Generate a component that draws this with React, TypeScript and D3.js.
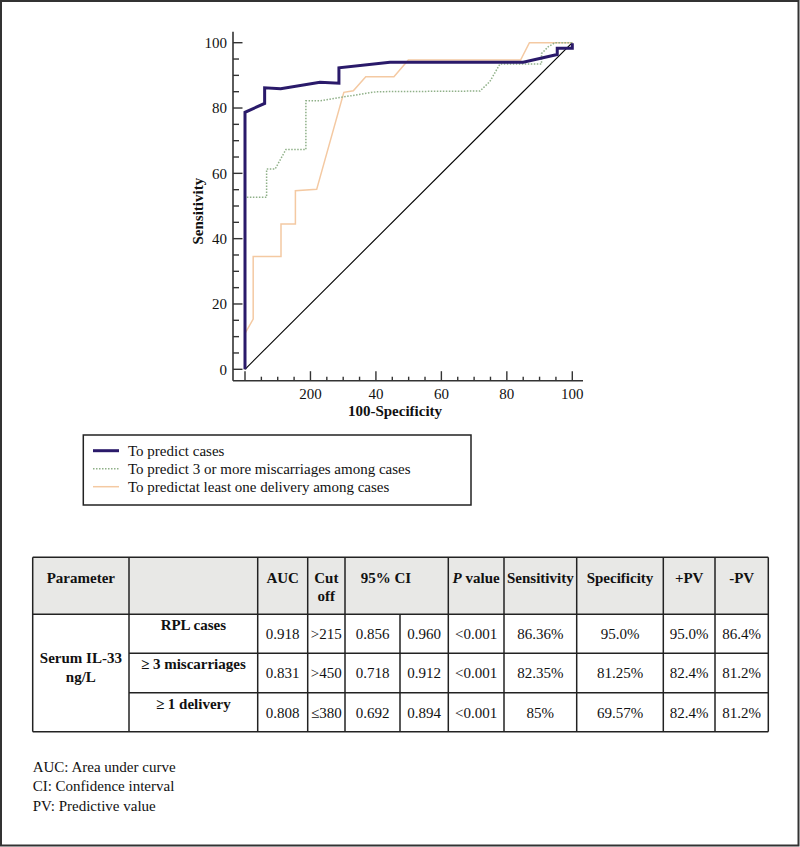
import * as d3 from 'd3';
import React from 'react';

// ROC curves, [100-Specificity, Sensitivity]
const casesCurve: [number, number][] = [
  [0, 0], [0, 78.7], [6.0, 81.4], [6.0, 86.2], [10.9, 85.9], [22.9, 87.9], [28.7, 87.6],
  [28.7, 92.3], [44.3, 94.0], [85, 94], [95.4, 96.4], [95.4, 98.3], [100, 98.3], [100, 99.8],
];
const miscarriageCurve: [number, number][] = [
  [0, 0], [0, 52.7], [6.6, 52.7], [6.6, 61.3], [9.2, 61.3], [12.5, 67.3], [18.6, 67.3],
  [18.6, 82.2], [22.9, 82.2], [29.5, 83.3], [40.2, 85.0], [71.8, 85.2], [74.8, 88.1],
  [77.9, 93.5], [90.6, 93.5], [90.6, 96.7], [92.7, 98.8], [94.7, 100], [100, 100],
];
const deliveryCurve: [number, number][] = [
  [0, 0], [0, 11.0], [2.5, 15.4], [2.5, 34.5], [11.0, 34.5], [11.0, 44.5], [15.4, 44.5],
  [15.4, 54.7], [21.9, 55.1], [30.2, 84.8], [33.1, 85.3], [36.9, 89.6], [45.5, 89.6],
  [49.9, 94.7], [84.2, 94.7], [86.9, 100], [100, 100],
];

const legendLabels = [
  'To predict cases',
  'To predict 3 or more miscarriages among cases',
  'To predictat least one delivery among cases',
];
const xTickLabels = ['200', '40', '60', '80', '100'];
const yTickLabels = ['0', '20', '40', '60', '80', '100'];

// table
const headers = ['Parameter', '', 'AUC', 'Cut off', '95% CI', 'P value', 'Sensitivity', 'Specificity', '+PV', '-PV'];
const groups = ['RPL cases', '≥ 3 miscarriages', '≥ 1 delivery'];
const auc = ['0.918', '0.831', '0.808'];
const cutoff = ['>215', '>450', '≤380'];
const ciLow = ['0.856', '0.718', '0.692'];
const ciHigh = ['0.960', '0.912', '0.894'];
const pValue = ['<0.001', '<0.001', '<0.001'];
const sensitivity = ['86.36%', '82.35%', '85%'];
const specificity = ['95.0%', '81.25%', '69.57%'];
const ppv = ['95.0%', '82.4%', '82.4%'];
const npv = ['86.4%', '81.2%', '81.2%'];
const footnotes = ['AUC: Area under curve', 'CI: Confidence interval', 'PV: Predictive value'];

const W = 800;
const H = 847;
const FONT = '"Liberation Serif", "Times New Roman", serif';

const App: React.FC = () => {
  const x = d3.scaleLinear().domain([0, 100]).range([245, 572.3]);
  const y = d3.scaleLinear().domain([0, 100]).range([369.3, 42.7]);
  const line = d3.line<[number, number]>().x(d => x(d[0])).y(d => y(d[1]));

  const axisX = 233;
  const axisY = 380.7;
  const ticks = d3.range(0, 101, 5);

  const series = [
    { data: deliveryCurve, color: '#f4c9a2', width: 1.5, dash: undefined },
    { data: miscarriageCurve, color: '#8fb088', width: 1.5, dash: '1.5,1.5' },
    { data: casesCurve, color: '#2a1a6a', width: 3, dash: undefined },
  ];
  const legendStyles = [series[2], series[1], series[0]];

  // table geometry
  const cols = [32.7, 129, 257.7, 307.7, 345, 400, 448.3, 504, 576.7, 663.3, 715, 768.3];
  const rows = [557.3, 614.3, 653.3, 692.7, 731.7];
  const cx = (i: number, j: number) => (cols[i] + cols[j]) / 2;
  const rowValues = [auc, cutoff, ciLow, ciHigh, pValue, sensitivity, specificity, ppv, npv];
  const headerCells: [number, number][] = [[0, 1], [1, 2], [2, 3], [3, 4], [4, 6], [6, 7], [7, 8], [8, 9], [9, 10], [10, 11]];

  return (
    <svg width={W} height={H} style={{ position: 'absolute', left: 0, top: 0, background: '#fff' }} fontFamily={FONT} fontSize={15}>
      <rect x={1} y={1} width={W - 2.5} height={H - 2.5} fill="#fff" stroke="#333" strokeWidth={2} />

      {/* axes */}
      <line x1={axisX} x2={axisX} y1={31.7} y2={axisY} stroke="#333" strokeWidth={1.6} />
      <line x1={axisX} x2={583} y1={axisY} y2={axisY} stroke="#333" strokeWidth={1.6} />
      {ticks.map(t => (
        <line key={'yt' + t} x1={axisX} x2={axisX + (t % 20 === 0 ? 9.5 : 6)} y1={y(t)} y2={y(t)} stroke="#333" strokeWidth={1.4} />
      ))}
      {ticks.map(t => (
        <line key={'xt' + t} x1={x(t)} x2={x(t)} y1={axisY} y2={axisY - (t % 20 === 0 ? 9.5 : 4)} stroke="#333" strokeWidth={1.4} />
      ))}
      {yTickLabels.map((l, i) => (
        <text key={'yl' + l} x={227} y={y(i * 20)} dy="0.35em" textAnchor="end" fill="#111">{l}</text>
      ))}
      {xTickLabels.map((l, i) => (
        <text key={'xl' + l} x={x((i + 1) * 20)} y={399} textAnchor="middle" fill="#111">{l}</text>
      ))}
      <text transform={`translate(203,${(31.7 + axisY) / 2 + 5}) rotate(-90)`} textAnchor="middle" fontWeight="bold" fill="#111">Sensitivity</text>
      <text x={395} y={416} textAnchor="middle" fontWeight="bold" fill="#111">100-Specificity</text>

      {/* reference diagonal */}
      <line x1={x(0)} y1={y(0)} x2={x(100)} y2={y(100)} stroke="#000" strokeWidth={1.1} />
      {series.map((s, i) => (
        <path key={i} d={line(s.data) ?? ''} fill="none" stroke={s.color} strokeWidth={s.width} strokeDasharray={s.dash} strokeLinejoin="miter" />
      ))}

      {/* legend */}
      <rect x={83.3} y={435} width={387.7} height={70} fill="#fff" stroke="#222" strokeWidth={1.5} />
      {legendLabels.map((l, i) => {
        const ly = 450.7 + i * 18;
        const s = legendStyles[i];
        return (
          <g key={l}>
            <line x1={93} x2={119} y1={ly} y2={ly} stroke={s.color} strokeWidth={s.width} strokeDasharray={s.dash} />
            <text x={128} y={ly + 5} fill="#111">{l}</text>
          </g>
        );
      })}

      {/* table */}
      <rect x={cols[0]} y={rows[0]} width={cols[11] - cols[0]} height={rows[1] - rows[0]} fill="#e8e8e6" />
      {rows.map(r => (
        <line key={'r' + r} x1={r === rows[2] || r === rows[3] ? cols[1] : cols[0]} x2={cols[11]} y1={r} y2={r} stroke="#222" strokeWidth={1.5} />
      ))}
      {cols.map((c, i) => (
        <line key={'c' + c} x1={c} x2={c} y1={i === 5 ? rows[1] : rows[0]} y2={rows[4]} stroke="#222" strokeWidth={1.5} />
      ))}
      {headerCells.map(([a, b], i) => {
        const h = headers[i];
        if (!h) return null;
        const tx = i === 4 ? 386 : cx(a, b);
        if (h === 'Cut off') {
          return (
            <text key={h} x={tx} textAnchor="middle" fontWeight="bold" fill="#111">
              <tspan x={tx} y={583}>Cut</tspan>
              <tspan x={tx} y={601}>off</tspan>
            </text>
          );
        }
        if (h === 'P value') {
          return (
            <text key={h} x={tx} y={583} textAnchor="middle" fontWeight="bold" fill="#111">
              <tspan fontStyle="italic">P</tspan> value
            </text>
          );
        }
        return (
          <text key={h} x={tx} y={583} textAnchor="middle" fontWeight="bold" fill="#111">{h}</text>
        );
      })}
      <text textAnchor="middle" fontWeight="bold" fill="#111">
        <tspan x={cx(0, 1)} y={663}>Serum IL-33</tspan>
        <tspan x={cx(0, 1)} y={682}>ng/L</tspan>
      </text>
      {groups.map((g, r) => (
        <g key={g}>
          <text x={cx(1, 2)} y={rows[r + 1] + 16} textAnchor="middle" fontWeight="bold" fill="#111">{g}</text>
          {rowValues.map((vals, k) => (
            <text key={k} x={cx(k + 2, k + 3)} y={rows[r + 1] + 25} textAnchor="middle" fill="#111">{vals[r]}</text>
          ))}
        </g>
      ))}

      {footnotes.map((f, i) => (
        <text key={f} x={32.7} y={771.5 + i * 19.7} fill="#111">{f}</text>
      ))}
    </svg>
  );
};

export default App;
